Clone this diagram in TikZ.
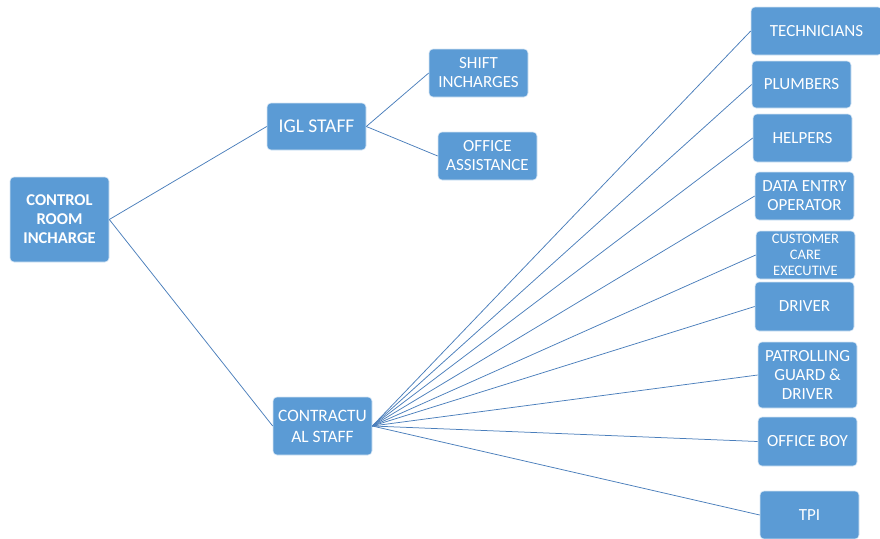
\documentclass[tikz,border=0pt]{standalone}
\usepackage{fontspec}
\setmainfont{Carlito}
\begin{document}
\begin{tikzpicture}[x=1pt,y=-1pt,
  box/.style={draw=white!75!boxblue, line width=0.6pt, fill=boxblue, rounded corners=4pt,
    text=white, align=center, inner sep=1pt, font=\fontsize{17}{19}\selectfont},
  link/.style={draw=lineblue, line width=0.75pt}]
\definecolor{boxblue}{HTML}{5B9BD5}
\definecolor{lineblue}{HTML}{4A7EBB}
\useasboundingbox (0,0) rectangle (880,538);
\node[box, minimum width=99pt, minimum height=85pt, font=\bfseries\fontsize{16.5}{19}\selectfont] (root) at (59.5,219.5) {CONTROL\\ROOM\\INCHARGE};
\node[box, minimum width=99pt, minimum height=47pt, font=\fontsize{19.5}{22}\selectfont] (igl) at (316.5,126.5) {IGL STAFF};
\node[box, minimum width=99pt, minimum height=48pt] (shift) at (478.5,73) {SHIFT\\INCHARGES};
\node[box, minimum width=99pt, minimum height=48pt] (offa) at (487.5,156) {OFFICE\\ASSISTANCE};
\node[box, minimum width=99pt, minimum height=58pt, font=\fontsize{17.4}{21}\selectfont] (con) at (322.5,426) {CONTRACTU\\AL STAFF};
\node[box, minimum width=131pt, minimum height=48pt] (tech) at (816.5,31) {TECHNICIANS};
\node[box, minimum width=99pt, minimum height=47pt] (plum) at (801.5,84.5) {PLUMBERS};
\node[box, minimum width=99pt, minimum height=48pt] (help) at (802.5,138) {HELPERS};
\node[box, minimum width=99pt, minimum height=48pt] (data) at (804.5,196) {DATA ENTRY\\OPERATOR};
\node[box, minimum width=99pt, minimum height=48pt, font=\fontsize{14.5}{16}\selectfont] (cust) at (805.5,255) {CUSTOMER\\CARE\\EXECUTIVE};
\node[box, minimum width=99pt, minimum height=49pt] (drv) at (804.5,306.5) {DRIVER};
\node[box, minimum width=99pt, minimum height=66pt] (pat) at (807.5,375) {PATROLLING\\GUARD \&\\DRIVER};
\node[box, minimum width=99pt, minimum height=49pt] (boy) at (807.5,441.5) {OFFICE BOY};
\node[box, minimum width=99pt, minimum height=48pt] (tpi) at (809.5,515) {TPI};
\draw[link] (root.east) -- (igl.west);
\draw[link] (root.east) -- (con.west);
\draw[link] (igl.east) -- (shift.west);
\draw[link] (igl.east) -- (offa.west);
\foreach \t in {tech,plum,help,data,cust,drv,pat,boy,tpi}
  \draw[link] (con.east) -- (\t.west);
\end{tikzpicture}
\end{document}
